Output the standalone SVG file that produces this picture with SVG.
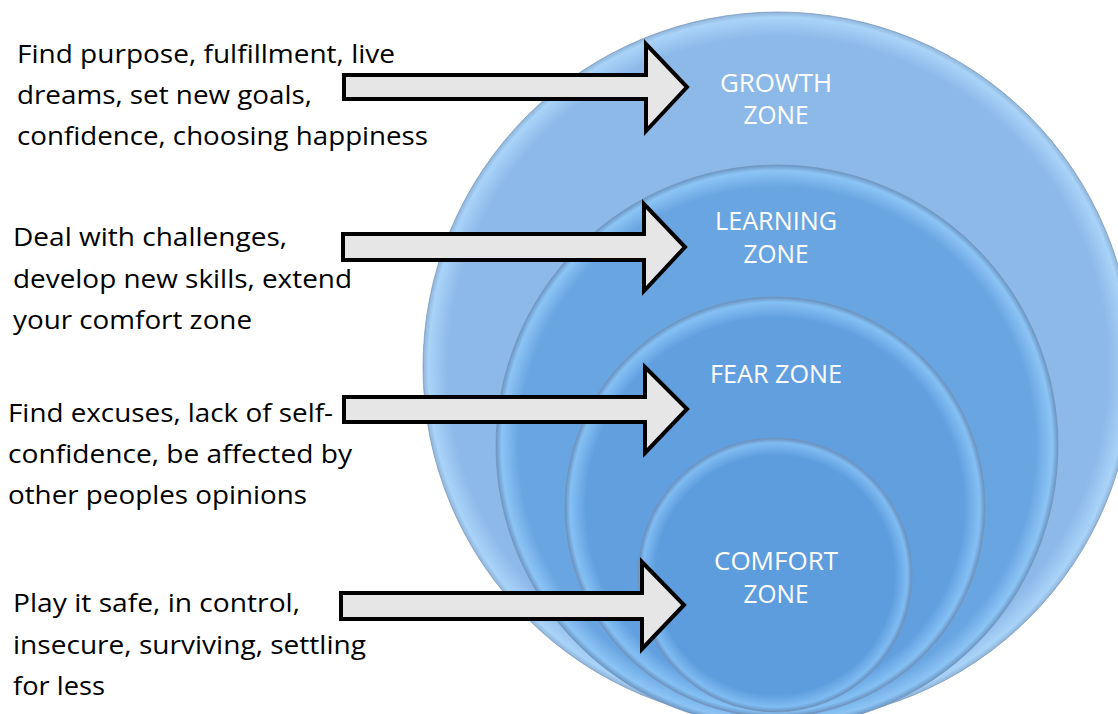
<svg xmlns="http://www.w3.org/2000/svg" width="1118" height="714" viewBox="0 0 1118 714">
<style>
.txt{font-family:"Open Sans","Liberation Sans",sans-serif;font-size:25.5px;fill:#000}
.lbl{font-family:"Open Sans","Liberation Sans",sans-serif;font-size:25px;fill:#fff;text-anchor:middle}
.arrow{fill:#e6e6e6;stroke:#000;stroke-width:4;stroke-linejoin:miter}
.zone{stroke:#7393b8;stroke-width:1;stroke-opacity:0.7}
</style>
<defs>
<radialGradient id="gGrowth" cx="0.5" cy="0.5" r="0.5">
<stop offset="0" stop-color="#8db9e9"/>
<stop offset="0.93" stop-color="#8db9e9"/>
<stop offset="0.985" stop-color="#a9d3f8"/>
<stop offset="1" stop-color="#8fb3d8"/>
</radialGradient>
<radialGradient id="gLearning" cx="0.5" cy="0.5" r="0.5">
<stop offset="0" stop-color="#69a5e1"/>
<stop offset="0.92" stop-color="#69a5e1"/>
<stop offset="0.98" stop-color="#8cc4f5"/>
<stop offset="1" stop-color="#6b97c4"/>
</radialGradient>
<radialGradient id="gFear" cx="0.5" cy="0.5" r="0.5">
<stop offset="0" stop-color="#629fdf"/>
<stop offset="0.9" stop-color="#629fdf"/>
<stop offset="0.975" stop-color="#85c0f4"/>
<stop offset="1" stop-color="#6893c2"/>
</radialGradient>
<radialGradient id="gComfort" cx="0.5" cy="0.5" r="0.5">
<stop offset="0" stop-color="#5d9cdd"/>
<stop offset="0.87" stop-color="#5d9cdd"/>
<stop offset="0.965" stop-color="#80bcf2"/>
<stop offset="1" stop-color="#6690c0"/>
</radialGradient>
</defs>
<rect width="1118" height="714" fill="#fff"/>

<g id="growth-zone">
<circle class="zone" cx="778" cy="367" r="355" fill="url(#gGrowth)"/>
<text class="lbl" x="776" y="92" textLength="112" lengthAdjust="spacingAndGlyphs">GROWTH</text>
<text class="lbl" x="776" y="124" textLength="65" lengthAdjust="spacingAndGlyphs">ZONE</text>
</g>
<g id="learning-zone">
<circle class="zone" cx="777" cy="446" r="281" fill="url(#gLearning)"/>
<text class="lbl" x="776" y="230" textLength="122" lengthAdjust="spacingAndGlyphs">LEARNING</text>
<text class="lbl" x="776" y="263" textLength="65" lengthAdjust="spacingAndGlyphs">ZONE</text>
</g>
<g id="fear-zone">
<circle class="zone" cx="775" cy="507" r="210" fill="url(#gFear)"/>
<text class="lbl" x="776" y="383" textLength="132" lengthAdjust="spacingAndGlyphs">FEAR ZONE</text>
</g>
<g id="comfort-zone">
<circle class="zone" cx="775" cy="575" r="137" fill="url(#gComfort)"/>
<text class="lbl" x="776" y="570" textLength="124" lengthAdjust="spacingAndGlyphs">COMFORT</text>
<text class="lbl" x="776" y="603" textLength="65" lengthAdjust="spacingAndGlyphs">ZONE</text>
</g>

<g id="text-growth">
<text class="txt" x="17" y="63" textLength="378" lengthAdjust="spacingAndGlyphs">Find purpose, fulfillment, live</text>
<text class="txt" x="17" y="104" textLength="295" lengthAdjust="spacingAndGlyphs">dreams, set new goals,</text>
<text class="txt" x="17" y="145" textLength="411" lengthAdjust="spacingAndGlyphs">confidence, choosing happiness</text>
</g>
<g id="text-learning">
<text class="txt" x="13" y="246" textLength="274" lengthAdjust="spacingAndGlyphs">Deal with challenges,</text>
<text class="txt" x="13" y="288" textLength="339" lengthAdjust="spacingAndGlyphs">develop new skills, extend</text>
<text class="txt" x="13" y="329" textLength="239" lengthAdjust="spacingAndGlyphs">your comfort zone</text>
</g>
<g id="text-fear">
<text class="txt" x="8" y="422" textLength="325" lengthAdjust="spacingAndGlyphs">Find excuses, lack of self-</text>
<text class="txt" x="8" y="463" textLength="344" lengthAdjust="spacingAndGlyphs">confidence, be affected by</text>
<text class="txt" x="8" y="504" textLength="299" lengthAdjust="spacingAndGlyphs">other peoples opinions</text>
</g>
<g id="text-comfort">
<text class="txt" x="13" y="612" textLength="287" lengthAdjust="spacingAndGlyphs">Play it safe, in control,</text>
<text class="txt" x="13" y="654" textLength="353" lengthAdjust="spacingAndGlyphs">insecure, surviving, settling</text>
<text class="txt" x="13" y="695" textLength="92" lengthAdjust="spacingAndGlyphs">for less</text>
</g>

<g id="connectors">
<polygon class="arrow" points="344,75 646,75 646,44 687,87 646,131 646,99 344,99"/>
<polygon class="arrow" points="343,234 644,234 644,204 685,247 644,291 644,260 343,260"/>
<polygon class="arrow" points="344,397 645,397 645,367 687,409 645,453 645,422 344,422"/>
<polygon class="arrow" points="341,593 642,593 642,562 684,605 642,649 642,619 341,619"/>
</g>
</svg>
